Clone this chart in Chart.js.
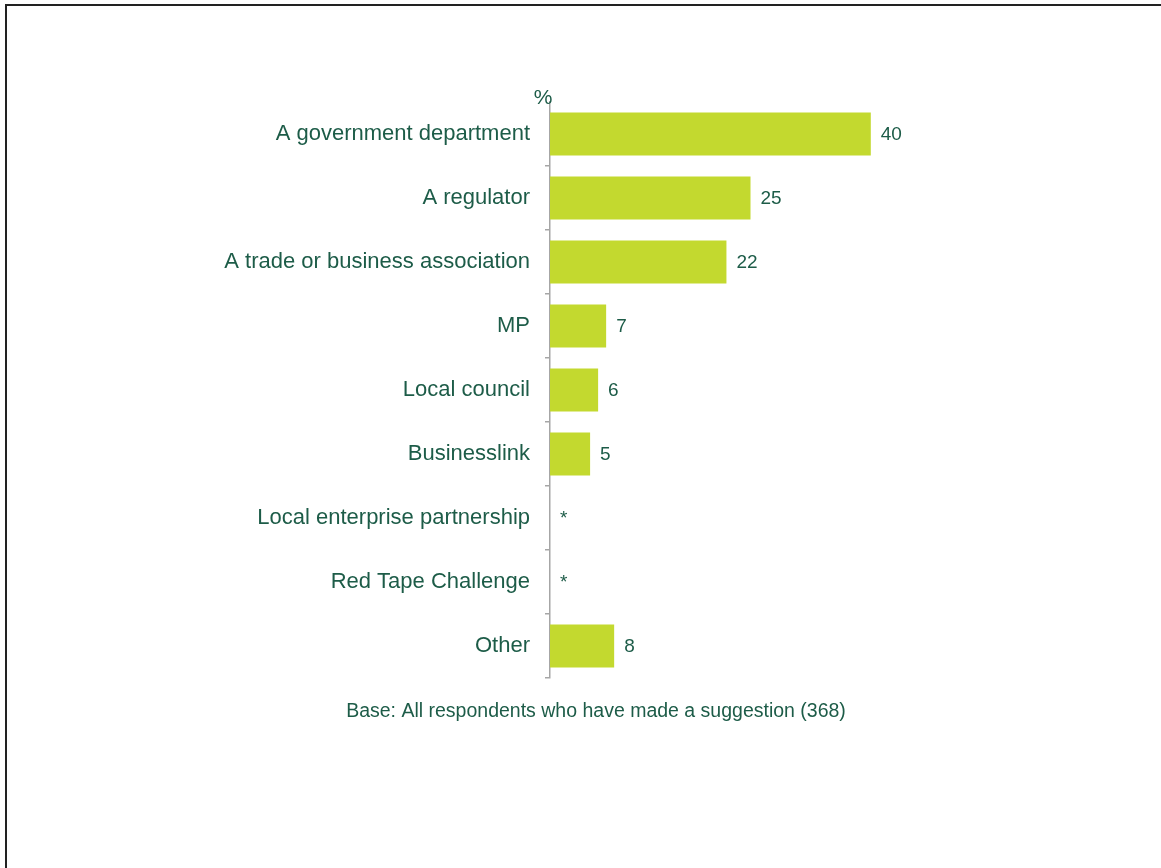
<!DOCTYPE html>
<html>
<head>
<meta charset="utf-8">
<script src="https://cdn.jsdelivr.net/npm/chart.js@4/dist/chart.umd.min.js"></script>
<style>
  html, body { margin: 0; padding: 0; background: #fff; overflow: hidden; }
  #frame {
    position: absolute; left: 5px; top: 4px; width: 1300px; height: 1000px;
    border-left: 2px solid #222; border-top: 2px solid #222;
  }
  #wrap { position: absolute; left: 0; top: 0; width: 1161px; height: 868px; }
</style>
</head>
<body>
<div id="frame"></div>
<div id="wrap"><canvas id="chart"></canvas></div>
<script>
const categories = [
  'A government department',
  'A regulator',
  'A trade or business association',
  'MP',
  'Local council',
  'Businesslink',
  'Local enterprise partnership',
  'Red Tape Challenge',
  'Other'
];
// '*' means below 0.5%, drawn as no bar
const percentages = [40, 25, 22, 7, 6, 5, 0, 0, 8];
const valueLabels = ['40', '25', '22', '7', '6', '5', '*', '*', '8'];
const unitLabel = '%';
const baseNote = 'Base: All respondents who have made a suggestion (368)';

const TEXT = '#1d5c48';
const BAR = '#c3d92f';
const AXIS = '#a6a6a6';
const FONT = 'Arial, "Liberation Sans", sans-serif';

/** Value labels at the bar ends, plus the % marker and base note */
const annotations = {
  id: 'annotations',
  afterDatasetsDraw(chart) {
    const { ctx, chartArea } = chart;
    const meta = chart.getDatasetMeta(0);
    ctx.save();
    ctx.fillStyle = TEXT;
    ctx.textBaseline = 'middle';
    ctx.textAlign = 'left';
    ctx.font = '19px ' + FONT;
    meta.data.forEach((bar, i) => {
      ctx.fillText(valueLabels[i], bar.x + 10, bar.y + 1);
    });
    ctx.font = '21px ' + FONT;
    ctx.textAlign = 'center';
    ctx.fillText(unitLabel, chartArea.left - 7, chartArea.top - 4);
    ctx.font = '19.5px ' + FONT;
    ctx.fillText(baseNote, 596, chartArea.bottom + 34);
    ctx.restore();
  }
};

new Chart(document.getElementById('chart'), {
  type: 'bar',
  data: {
    labels: categories,
    datasets: [{
      data: percentages,
      backgroundColor: BAR,
      borderWidth: 0,
      categoryPercentage: 1,
      barPercentage: 0.67,
    }],
  },
  options: {
    indexAxis: 'y',
    responsive: true,
    maintainAspectRatio: false,
    animation: false,
    layout: { padding: { top: 102, bottom: 190, right: 210, left: 0 } },
    plugins: { legend: { display: false }, tooltip: { enabled: false } },
    scales: {
      x: { display: false, min: 0, max: 50 },
      y: {
        afterFit(scale) { scale.width = 550; },
        border: { color: AXIS, width: 1.5 },
        grid: {
          drawOnChartArea: false,
          offset: true,
          tickLength: 5,
          lineWidth: 1.5,
          color: ctx => ctx.index === 0 ? 'rgba(0,0,0,0)' : AXIS,
        },
        ticks: { color: TEXT, font: { size: 22, family: FONT }, padding: 15 },
      },
    },
  },
  plugins: [annotations],
});
</script>
</body>
</html>
